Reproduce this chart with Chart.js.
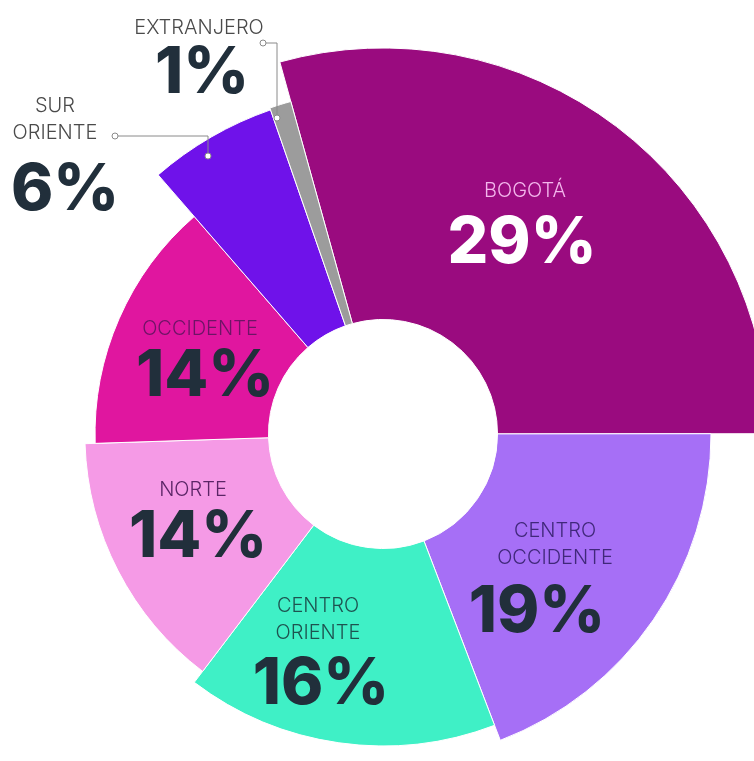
<!DOCTYPE html>
<html>
<head>
<meta charset="utf-8">
<script src="https://cdn.jsdelivr.net/npm/chart.js@4"></script>
<style>
  html, body { margin: 0; padding: 0; background: #fff; }
  canvas { display: block; }
</style>
</head>
<body>
<canvas id="G1" width="754" height="761"></canvas>
<script>
// datos
var regiones = ["BOGOTÁ", "CENTRO OCCIDENTE", "CENTRO ORIENTE", "NORTE", "OCCIDENTE", "SUR ORIENTE", "EXTRANJERO"];
var porcentajes = [29, 19, 16, 14, 14, 6, 1];

// estilos
var colores = ['#9a0b7f', '#a66ff6', '#3ff0c6', '#f59ae6', '#e0169f', '#6f12ea', '#9c9c9c'];
var radioBase = 328;
var radioRel = [1.177, 1.0, 0.951, 0.909, 0.878, 1.046, 1.052];
var colorNombre = ['#f3b6ec', '#40287a', '#1e5350', '#5b2566', '#6e1466', '#4a4a4a', '#4a4a4a'];
var colorNumero = ['#ffffff', '#212f3b', '#212f3b', '#212f3b', '#212f3b', '#212f3b', '#212f3b'];
// posicion de textos respecto al centro: [x nombre, y nombre, x numero, y numero]
var posTexto = [
    [142, -244, 139, -194],
    [172, 96, 154, 175],
    [-65, 171, -62, 247],
    [-190, 55, -185, 100],
    [-183, -106, -178, -61],
    [-328, -329, -318, -247],
    [-184, -407, -181, -364]
];
// lineas guia: [circulo x,y, esquina x,y, punto x,y]
var guias = [
    [-268, -298, -175, -298, -175, -278],
    [-120, -391, -106, -391, -106, -316]
];

var radiosPlugin = {
    id: 'radios',
    beforeDatasetsDraw: function(chart) {
        var meta = chart.getDatasetMeta(0);
        meta.data.forEach(function(arc, i) {
            arc.outerRadius = radioBase * radioRel[i];
        });
    }
};

var textosPlugin = {
    id: 'textos',
    afterDraw: function(chart) {
        var ctx = chart.ctx;
        var arc = chart.getDatasetMeta(0).data[0];
        var cx = arc.x, cy = arc.y;
        ctx.save();
        ctx.textAlign = 'center';
        ctx.textBaseline = 'alphabetic';
        regiones.forEach(function(nombre, i) {
            var p = posTexto[i];
            var lineas = nombre.split(' ');
            ctx.font = '300 20px Inter';
            ctx.fillStyle = colorNombre[i];
            lineas.forEach(function(l, j) {
                ctx.fillText(l, cx + p[0], cy + p[1] + 7 + j * 27);
            });
            ctx.font = '800 64px Inter';
            ctx.fillStyle = colorNumero[i];
            ctx.fillText(porcentajes[i] + '%', cx + p[2], cy + p[3] + 23);
        });

        ctx.strokeStyle = '#8a8a8a';
        ctx.lineWidth = 1;
        guias.forEach(function(g) {
            ctx.beginPath();
            ctx.moveTo(cx + g[0] + 3, cy + g[1]);
            ctx.lineTo(cx + g[2], cy + g[3]);
            ctx.lineTo(cx + g[4], cy + g[5] - 3);
            ctx.stroke();
            [[g[0], g[1]], [g[4], g[5]]].forEach(function(c) {
                ctx.beginPath();
                ctx.arc(cx + c[0], cy + c[1], 3, 0, Math.PI * 2);
                ctx.fillStyle = '#ffffff';
                ctx.fill();
                ctx.stroke();
            });
        });
        ctx.restore();
    }
};

var grafico = new Chart(document.getElementById('G1').getContext('2d'), {
    type: 'doughnut',
    data: {
        labels: regiones,
        datasets: [{
            data: porcentajes,
            backgroundColor: colores,
            borderColor: '#ffffff',
            borderWidth: 1,
            hoverOffset: 0,
            clip: false
        }]
    },
    options: {
        responsive: false,
        animation: false,
        rotation: -15.5,
        radius: radioBase,
        cutout: 114,
        layout: { padding: { left: 12, right: 0, top: 107, bottom: 0 } },
        events: [],
        plugins: {
            legend: { display: false },
            tooltip: { enabled: false },
            title: { display: false }
        }
    },
    plugins: [radiosPlugin, textosPlugin]
});
</script>
</body>
</html>
